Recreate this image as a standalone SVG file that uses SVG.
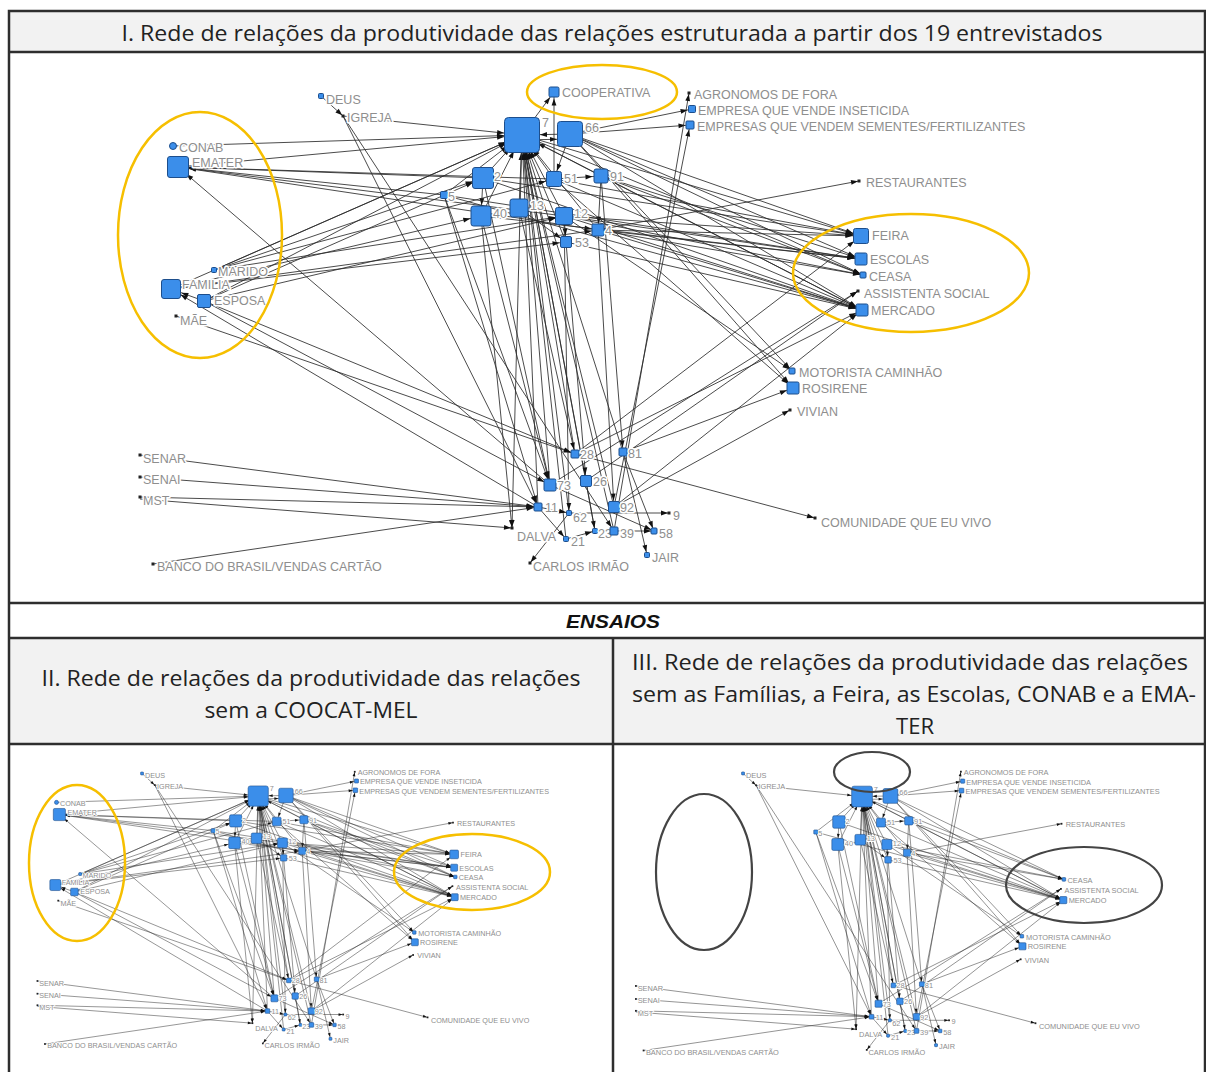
<svg xmlns="http://www.w3.org/2000/svg" width="1206" height="1072" viewBox="0 0 1206 1072">
<style>
.e{fill:none;stroke:#2a2a2a;stroke-width:0.85}
.a17{marker-end:url(#a17)}.a12{marker-end:url(#a12)}.a10{marker-end:url(#a10)}.a8{marker-end:url(#a8)}
.a6{marker-end:url(#a6)}.a4{marker-end:url(#a4)}.a3{marker-end:url(#a3)}.a0{marker-end:url(#a0)}
.nd{fill:#3b8eea;stroke:#1d4e8c;stroke-width:1}
.tn{fill:#222}
.lb{font-family:"Liberation Sans",Arial,sans-serif;font-size:12.5px;fill:#8e8e8e;stroke:#fff;stroke-width:3px;paint-order:stroke;stroke-linejoin:round}
.hd{font-family:"Open Sans","Liberation Sans",sans-serif;font-size:21.5px;fill:#222}
.yel{fill:none;stroke:#f6bf00;stroke-width:2.5}
.gry{fill:none;stroke:#444;stroke-width:2.2}
.frame{fill:none;stroke:#2e2e2e;stroke-width:2.5}
</style>
<defs>
<marker id="a17" markerUnits="userSpaceOnUse" markerWidth="7" markerHeight="6" refX="25" refY="3" orient="auto" overflow="visible"><path d="M0,0.6L7,3L0,5.4z" fill="#111"/></marker>
<marker id="a12" markerUnits="userSpaceOnUse" markerWidth="7" markerHeight="6" refX="20" refY="3" orient="auto" overflow="visible"><path d="M0,0.6L7,3L0,5.4z" fill="#111"/></marker>
<marker id="a10" markerUnits="userSpaceOnUse" markerWidth="7" markerHeight="6" refX="18" refY="3" orient="auto" overflow="visible"><path d="M0,0.6L7,3L0,5.4z" fill="#111"/></marker>
<marker id="a8" markerUnits="userSpaceOnUse" markerWidth="7" markerHeight="6" refX="15.5" refY="3" orient="auto" overflow="visible"><path d="M0,0.6L7,3L0,5.4z" fill="#111"/></marker>
<marker id="a6" markerUnits="userSpaceOnUse" markerWidth="7" markerHeight="6" refX="13.5" refY="3" orient="auto" overflow="visible"><path d="M0,0.6L7,3L0,5.4z" fill="#111"/></marker>
<marker id="a4" markerUnits="userSpaceOnUse" markerWidth="7" markerHeight="6" refX="11.5" refY="3" orient="auto" overflow="visible"><path d="M0,0.6L7,3L0,5.4z" fill="#111"/></marker>
<marker id="a3" markerUnits="userSpaceOnUse" markerWidth="7" markerHeight="6" refX="10" refY="3" orient="auto" overflow="visible"><path d="M0,0.6L7,3L0,5.4z" fill="#111"/></marker>
<marker id="a0" markerUnits="userSpaceOnUse" markerWidth="7" markerHeight="6" refX="8" refY="3" orient="auto" overflow="visible"><path d="M0,0.6L7,3L0,5.4z" fill="#111"/></marker>
</defs>

<!-- table -->
<rect x="9" y="11" width="1196" height="41" fill="#f2f2f2"/>
<rect x="9" y="638" width="1196" height="106" fill="#f2f2f2"/>
<rect class="frame" x="9" y="11" width="1196" height="1075"/>
<line class="frame" x1="9" y1="52" x2="1205" y2="52"/>
<line class="frame" x1="9" y1="603" x2="1205" y2="603"/>
<line class="frame" x1="9" y1="638" x2="1205" y2="638"/>
<line class="frame" x1="9" y1="744" x2="1205" y2="744"/>
<line class="frame" x1="613" y1="638" x2="613" y2="1072"/>
<text class="hd" x="612" y="41" text-anchor="middle" font-size="22" textLength="981" lengthAdjust="spacingAndGlyphs">I. Rede de relações da produtividade das relações estruturada a partir dos 19 entrevistados</text>
<text x="613" y="628" text-anchor="middle" font-family="'Liberation Sans',Arial,sans-serif" font-size="18.5" font-weight="bold" font-style="italic" fill="#111" textLength="94" lengthAdjust="spacingAndGlyphs">ENSAIOS</text>
<text class="hd" x="311" y="686" text-anchor="middle" textLength="539" lengthAdjust="spacingAndGlyphs">II. Rede de relações da produtividade das relações</text>
<text class="hd" x="311" y="718" text-anchor="middle" textLength="213" lengthAdjust="spacingAndGlyphs">sem a COOCAT-MEL</text>
<text class="hd" x="910" y="670" text-anchor="middle" textLength="556" lengthAdjust="spacingAndGlyphs">III. Rede de relações da produtividade das relações</text>
<text class="hd" x="914" y="702" text-anchor="middle" textLength="564" lengthAdjust="spacingAndGlyphs">sem as Famílias, a Feira, as Escolas, CONAB e a EMA-</text>
<text class="hd" x="915" y="734" text-anchor="middle" textLength="38" lengthAdjust="spacingAndGlyphs">TER</text>

<!-- main network -->
<g id="connectors">
<g id="edges-core">
<path class="e a17" d="M570 134L522 135"/>
<path class="e a12" d="M522 140L570 139"/>
<path class="e a17" d="M483 178L522 135"/>
<path class="e a17" d="M554 179L522 135"/>
<path class="e a17" d="M519 208L522 135"/>
<path class="e a17" d="M481 216L522 135"/>
<path class="e a17" d="M564 216L522 135"/>
<path class="e a17" d="M566 242L522 135"/>
<path class="e a17" d="M598 230L522 135"/>
<path class="e a17" d="M444 195L522 135"/>
<path class="e a17" d="M601 176L522 135"/>
<path class="e a17" d="M550 485L522 135"/>
<path class="e a17" d="M575 454L522 135"/>
<path class="e a17" d="M586 481L522 135"/>
<path class="e a17" d="M538 507L522 135"/>
<path class="e a17" d="M569 513L522 135"/>
<path class="e a17" d="M614 507L522 135"/>
<path class="e a17" d="M623 452L522 135"/>
<path class="e a17" d="M566 539L522 135"/>
<path class="e a17" d="M614 531L522 135"/>
<path class="e a17" d="M595 531L522 135"/>
<path class="e a17" d="M343 116L522 135"/>
<path class="e a10" d="M483 178L481 216"/>
<path class="e a6" d="M564 216L566 242"/>
<path class="e a6" d="M519 208L566 242"/>
<path class="e a8" d="M554 179L601 176"/>
<path class="e a6" d="M601 176L598 230"/>
<path class="e a8" d="M570 134L554 179"/>
<path class="e a3" d="M570 134L863 275"/>
<path class="e a6" d="M570 134L862 310"/>
<path class="e a3" d="M522 135L863 275"/>
<path class="e a6" d="M522 135L862 310"/>
<path class="e a6" d="M554 179L862 310"/>
<path class="e a6" d="M601 176L862 310"/>
<path class="e a3" d="M601 176L863 275"/>
<path class="e a3" d="M564 216L863 275"/>
<path class="e a6" d="M564 216L862 310"/>
<path class="e a6" d="M598 230L862 310"/>
<path class="e a3" d="M598 230L863 275"/>
<path class="e a0" d="M598 230L859 181"/>
<path class="e a6" d="M483 178L862 310"/>
<path class="e a6" d="M566 242L862 310"/>
<path class="e a6" d="M444 195L862 310"/>
<path class="e a3" d="M570 134L792 371"/>
<path class="e a6" d="M570 134L793 388"/>
<path class="e a6" d="M554 179L793 388"/>
<path class="e a3" d="M564 216L792 371"/>
<path class="e a6" d="M623 452L793 388"/>
<path class="e a0" d="M614 507L790 410"/>
<path class="e a0" d="M586 481L858 291"/>
<path class="e a0" d="M550 485L858 291"/>
<path class="e a6" d="M575 454L862 310"/>
<path class="e a6" d="M614 507L862 310"/>
<path class="e a4" d="M570 134L692 109"/>
<path class="e a4" d="M570 134L690 125"/>
<path class="e a4" d="M614 507L690 125"/>
<path class="e a0" d="M614 531L689 93"/>
<path class="e a4" d="M140 455L538 507"/>
<path class="e a4" d="M140 477L538 507"/>
<path class="e a4" d="M140 497L538 507"/>
<path class="e a0" d="M140 499L512 528"/>
<path class="e a4" d="M153 564L538 507"/>
<path class="e a0" d="M481 216L512 528"/>
<path class="e a0" d="M522 135L512 528"/>
<path class="e a3" d="M538 507L569 513"/>
<path class="e a3" d="M538 507L566 539"/>
<path class="e a3" d="M586 481L595 531"/>
<path class="e a3" d="M564 216L569 513"/>
<path class="e a6" d="M483 178L550 485"/>
<path class="e a6" d="M444 195L550 485"/>
<path class="e a6" d="M481 216L550 485"/>
<path class="e a4" d="M519 208L575 454"/>
<path class="e a4" d="M601 176L623 452"/>
<path class="e a3" d="M623 452L647 555"/>
<path class="e a0" d="M569 513L669 513"/>
<path class="e a3" d="M614 531L654 531"/>
<path class="e a3" d="M550 485L654 531"/>
<path class="e a3" d="M566 539L595 531"/>
<path class="e a0" d="M569 513L530 563"/>
<path class="e a3" d="M623 452L654 531"/>
<path class="e a4" d="M343 116L538 507"/>
<path class="e a4" d="M343 116L614 531"/>
<path class="e a0" d="M321 96L343 116"/>
<path class="e a0" d="M575 454L815 518"/>
<path class="e a6" d="M598 230L614 507"/>
<path class="e a6" d="M566 242L586 481"/>
<path class="e a4" d="M444 195L538 507"/>
</g>
<g id="edges-fam">
<path class="e a17" d="M173 146L522 135"/>
<path class="e a17" d="M178 167L522 135"/>
<path class="e a10" d="M483 178L178 167"/>
<path class="e a10" d="M444 195L178 167"/>
<path class="e a10" d="M554 179L178 167"/>
<path class="e a10" d="M564 216L178 167"/>
<path class="e a10" d="M550 485L178 167"/>
<path class="e a6" d="M178 167L598 230"/>
<path class="e a17" d="M214 270L522 135"/>
<path class="e a10" d="M214 270L483 178"/>
<path class="e a8" d="M214 270L554 179"/>
<path class="e a8" d="M214 270L564 216"/>
<path class="e a17" d="M171 289L522 135"/>
<path class="e a10" d="M171 289L481 216"/>
<path class="e a6" d="M171 289L598 230"/>
<path class="e a6" d="M171 289L566 242"/>
<path class="e a17" d="M204 301L522 135"/>
<path class="e a10" d="M204 301L483 178"/>
<path class="e a8" d="M204 301L564 216"/>
<path class="e a10" d="M204 301L171 289"/>
<path class="e a10" d="M538 507L171 289"/>
<path class="e a6" d="M204 301L550 485"/>
<path class="e a4" d="M204 301L575 454"/>
<path class="e a4" d="M176 316L575 454"/>
<path class="e a8" d="M522 135L861 236"/>
<path class="e a8" d="M570 134L861 236"/>
<path class="e a8" d="M554 179L861 236"/>
<path class="e a8" d="M483 178L861 236"/>
<path class="e a8" d="M564 216L861 236"/>
<path class="e a8" d="M598 230L861 236"/>
<path class="e a8" d="M575 454L861 236"/>
<path class="e a6" d="M570 134L861 259"/>
<path class="e a6" d="M601 176L861 259"/>
<path class="e a6" d="M598 230L861 259"/>
<path class="e a6" d="M481 216L861 259"/>
<path class="e a6" d="M564 216L861 259"/>
<path class="e a6" d="M444 195L861 259"/>
</g>
<g id="edges-coop">
<path class="e a6" d="M522 135L554 92"/>
<path class="e a6" d="M554 179L554 92"/>
</g>
</g>

<g id="nodes-core">
<g id="n7"><rect class="nd" x="504.5" y="117.5" width="35" height="35" rx="4"/><text class="lb" x="542" y="127">7</text></g>
<g id="n66"><rect class="nd" x="557.5" y="121.5" width="25" height="25" rx="3"/><text class="lb" x="585" y="132">66</text></g>
<g id="n2"><rect class="nd" x="472.5" y="167.5" width="21" height="21" rx="2.5"/><text class="lb" x="494" y="181">2</text></g>
<g id="n51"><rect class="nd" x="546.5" y="171.5" width="15" height="15" rx="2"/><text class="lb" x="564" y="183">51</text></g>
<g id="n91"><rect class="nd" x="594" y="169" width="14" height="14" rx="2"/><text class="lb" x="610" y="181">91</text></g>
<g id="n5"><rect class="nd" x="440.5" y="191.5" width="7" height="7" rx="1"/><text class="lb" x="448" y="201">5</text></g>
<g id="n40"><rect class="nd" x="471" y="206" width="20" height="20" rx="2.5"/><text class="lb" x="493" y="218">40</text></g>
<g id="n13"><rect class="nd" x="510" y="199" width="18" height="18" rx="2.5"/><text class="lb" x="530" y="210">13</text></g>
<g id="n12"><rect class="nd" x="555.5" y="207.5" width="17" height="17" rx="2"/><text class="lb" x="574" y="218">12</text></g>
<g id="n4"><rect class="nd" x="592" y="224" width="12" height="12" rx="1.5"/><text class="lb" x="605" y="235">4</text></g>
<g id="n53"><rect class="nd" x="560.5" y="236.5" width="11" height="11" rx="1.5"/><text class="lb" x="575" y="247">53</text></g>
<g id="n-deus"><rect class="nd" x="318.5" y="93.5" width="5" height="5" rx="1"/><text class="lb" x="326" y="104">DEUS</text></g>
<g id="n-igreja"><rect class="tn" x="341.5" y="114.5" width="3" height="3"/><text class="lb" x="347" y="122">IGREJA</text></g>
<g id="n-agro"><rect class="tn" x="687.5" y="91.5" width="3" height="3"/><text class="lb" x="694" y="99">AGRONOMOS DE FORA</text></g>
<g id="n-inset"><rect class="nd" x="688.5" y="105.5" width="7" height="7" rx="1"/><text class="lb" x="698" y="115">EMPRESA QUE VENDE INSETICIDA</text></g>
<g id="n-sementes"><rect class="nd" x="686" y="121" width="8" height="8" rx="1"/><text class="lb" x="697" y="131">EMPRESAS QUE VENDEM SEMENTES/FERTILIZANTES</text></g>
<g id="n-rest"><rect class="tn" x="857.5" y="179.5" width="3" height="3"/><text class="lb" x="866" y="187">RESTAURANTES</text></g>
<g id="n-ceasa"><rect class="nd" x="860" y="272" width="6" height="6" rx="1"/><text class="lb" x="869" y="281">CEASA</text></g>
<g id="n-assist"><rect class="tn" x="856.5" y="289.5" width="3" height="3"/><text class="lb" x="864" y="298">ASSISTENTA SOCIAL</text></g>
<g id="n-mercado"><rect class="nd" x="856" y="304" width="12" height="12" rx="1.5"/><text class="lb" x="871" y="315">MERCADO</text></g>
<g id="n-motorista"><rect class="nd" x="789" y="368" width="6" height="6" rx="1"/><text class="lb" x="799" y="377">MOTORISTA CAMINHÃO</text></g>
<g id="n-rosirene"><rect class="nd" x="787" y="382" width="12" height="12" rx="1.5"/><text class="lb" x="802" y="393">ROSIRENE</text></g>
<g id="n-vivian"><rect class="tn" x="788.5" y="408.5" width="3" height="3"/><text class="lb" x="797" y="416">VIVIAN</text></g>
<g id="n-senar"><rect class="tn" x="138.5" y="453.5" width="3" height="3"/><text class="lb" x="143" y="463">SENAR</text></g>
<g id="n-senai"><rect class="tn" x="138.5" y="475.5" width="3" height="3"/><text class="lb" x="143" y="484">SENAI</text></g>
<g id="n-mst"><rect class="tn" x="138.5" y="495.5" width="3" height="3"/><text class="lb" x="143" y="505">MST</text></g>
<g id="n-banco"><rect class="tn" x="151.5" y="562.5" width="3" height="3"/><text class="lb" x="157" y="571">BANCO DO BRASIL/VENDAS CARTÃO</text></g>
<g id="n28"><rect class="nd" x="571" y="450" width="8" height="8" rx="1"/><text class="lb" x="580" y="459">28</text></g>
<g id="n81"><rect class="nd" x="619" y="448" width="8" height="8" rx="1"/><text class="lb" x="628" y="458">81</text></g>
<g id="n73"><rect class="nd" x="544" y="479" width="12" height="12" rx="1.5"/><text class="lb" x="557" y="490">73</text></g>
<g id="n26"><rect class="nd" x="580.5" y="475.5" width="11" height="11" rx="1.5"/><text class="lb" x="593" y="486">26</text></g>
<g id="n11"><rect class="nd" x="534" y="503" width="8" height="8" rx="1"/><text class="lb" x="545" y="512">11</text></g>
<g id="n62"><rect class="nd" x="566.5" y="510.5" width="5" height="5" rx="1"/><text class="lb" x="573" y="522">62</text></g>
<g id="n92"><rect class="nd" x="608.5" y="501.5" width="11" height="11" rx="1.5"/><text class="lb" x="620" y="512">92</text></g>
<g id="n9"><rect class="tn" x="667.5" y="511.5" width="3" height="3"/><text class="lb" x="673" y="520">9</text></g>
<g id="n23"><rect class="nd" x="592.5" y="528.5" width="5" height="5" rx="1"/><text class="lb" x="598" y="538">23</text></g>
<g id="n39"><rect class="nd" x="610" y="527" width="8" height="8" rx="1"/><text class="lb" x="620" y="538">39</text></g>
<g id="n58"><rect class="nd" x="651" y="528" width="6" height="6" rx="1"/><text class="lb" x="659" y="538">58</text></g>
<g id="n21"><rect class="nd" x="563.5" y="536.5" width="5" height="5" rx="1"/><text class="lb" x="571" y="546">21</text></g>
<g id="n-dalva"><rect class="tn" x="510.5" y="526.5" width="3" height="3"/><text class="lb" x="517" y="541">DALVA</text></g>
<g id="n-carlos"><rect class="tn" x="528.5" y="561.5" width="3" height="3"/><text class="lb" x="533" y="571">CARLOS IRMÃO</text></g>
<g id="n-jair"><rect class="nd" x="644.5" y="552.5" width="5" height="5" rx="1"/><text class="lb" x="652" y="562">JAIR</text></g>
<g id="n-comunidade"><rect class="tn" x="813.5" y="516.5" width="3" height="3"/><text class="lb" x="821" y="527">COMUNIDADE QUE EU VIVO</text></g>
</g>
<g id="nodes-fam">
<g id="n-conab"><circle class="nd" cx="173" cy="146" r="3.5"/><text class="lb" x="179" y="152">CONAB</text></g>
<g id="n-emater"><rect class="nd" x="167.5" y="156.5" width="21" height="21" rx="2.5"/><text class="lb" x="192" y="167">EMATER</text></g>
<g id="n-marido"><rect class="nd" x="211.5" y="267.5" width="5" height="5" rx="1"/><text class="lb" x="218" y="276">MARIDO</text></g>
<g id="n-familia"><rect class="nd" x="161.5" y="279.5" width="19" height="19" rx="2.5"/><text class="lb" x="182" y="289">FAMILIA</text></g>
<g id="n-esposa"><rect class="nd" x="197.5" y="294.5" width="13" height="13" rx="1.5"/><text class="lb" x="214" y="305">ESPOSA</text></g>
<g id="n-mae"><rect class="tn" x="174.5" y="314.5" width="3" height="3"/><text class="lb" x="180" y="325">MÃE</text></g>
<g id="n-feira"><rect class="nd" x="853.5" y="228.5" width="15" height="15" rx="2"/><text class="lb" x="872" y="240">FEIRA</text></g>
<g id="n-escolas"><rect class="nd" x="855" y="253" width="12" height="12" rx="1.5"/><text class="lb" x="870" y="264">ESCOLAS</text></g>
</g>
<g id="nodes-coop">
<g id="n-cooperativa"><rect class="nd" x="549" y="87" width="10" height="10" rx="1.5"/><text class="lb" x="562" y="97">COOPERATIVA</text></g>
</g>

<ellipse class="yel" cx="200" cy="235" rx="82" ry="123"/>
<ellipse class="yel" cx="602" cy="92" rx="75" ry="27"/>
<ellipse class="yel" cx="911" cy="273" rx="118" ry="59"/>

<!-- panel II -->
<g id="panel-2" transform="translate(-43.5,718) scale(0.578)">
<use href="#edges-core"/><use href="#edges-fam"/><use href="#nodes-core"/><use href="#nodes-fam"/>
</g>
<ellipse class="yel" cx="77" cy="863" rx="48" ry="78"/>
<ellipse class="yel" cx="472" cy="872" rx="78" ry="38"/>

<!-- panel III -->
<g id="panel-3" transform="translate(553,716.6) scale(0.592)">
<use href="#edges-core"/><use href="#nodes-core"/>
</g>
<ellipse class="gry" cx="704" cy="872" rx="48" ry="78"/>
<ellipse class="gry" cx="872" cy="772" rx="38" ry="20"/>
<ellipse class="gry" cx="1084" cy="885" rx="78" ry="38"/>
</svg>
